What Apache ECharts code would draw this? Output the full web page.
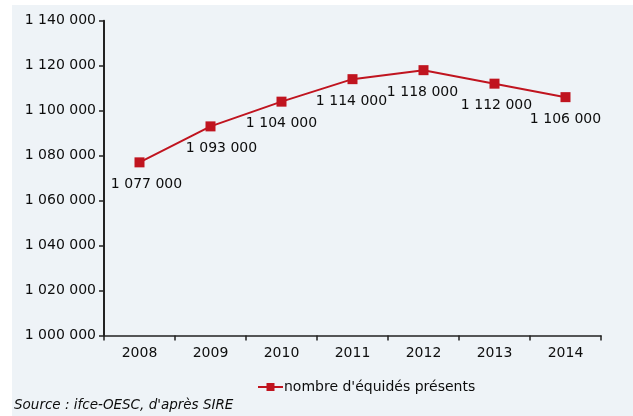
<!DOCTYPE html>
<html>
<head>
<meta charset="utf-8">
<script src="https://cdn.jsdelivr.net/npm/echarts@6/dist/echarts.min.js"></script>
<style>
html,body{margin:0;padding:0;background:#ffffff;}
#chart{width:633px;height:416px;}
</style>
</head>
<body>
<div id="chart"></div>
<script>
const years = ['2008','2009','2010','2011','2012','2013','2014'];
const equides = [1077000, 1093000, 1104000, 1114000, 1118000, 1112000, 1106000];
const yTicks = [1000000, 1020000, 1040000, 1060000, 1080000, 1100000, 1120000, 1140000];
const seriesName = "nombre d'équidés présents";
const sourceText = "Source : ifce-OESC, d'après SIRE";

// label nudges (style only)
const labelNudgeX = [7, 11, 0, -1, -1, 2, 0];

function fmt(v){
  return String(Math.round(v)).replace(/\B(?=(\d{3})+(?!\d))/g, ' ');
}

const red = '#c0141f';
const ink = '#0d0d0d';
const font = '"DejaVu Sans", Verdana, sans-serif';

const chart = echarts.init(document.getElementById('chart'), null, {renderer:'canvas'});
chart.setOption({
  animation: false,
  backgroundColor: '#ffffff',
  graphic: [
    {type:'rect', z:-10, shape:{x:12, y:5, width:621, height:411}, style:{fill:'#eef3f7'}},
    {type:'text', left:14, top:398, style:{text:sourceText, font:'italic 13.5px "DejaVu Sans", Verdana, sans-serif', fill:ink}}
  ],
  grid: {left:104, right:32, top:20.7, bottom:80.5, containLabel:false},
  xAxis: {
    type:'category',
    data: years,
    boundaryGap: true,
    axisLine: {lineStyle:{color:'#222', width:1.5}},
    axisTick: {show:true, length:5, lineStyle:{color:'#222', width:1.5}},
    axisLabel: {color:ink, fontFamily:font, fontSize:14, margin:11},
    splitLine: {show:false}
  },
  yAxis: {
    type:'value',
    min: yTicks[0],
    max: yTicks[yTicks.length-1],
    interval: 20000,
    axisLine: {show:true, lineStyle:{color:'#222', width:2}},
    axisTick: {show:true, length:5, lineStyle:{color:'#222', width:1.5}},
    axisLabel: {color:ink, fontFamily:font, fontSize:14, margin:8, formatter: fmt},
    splitLine: {show:false}
  },
  legend: {
    left: 252, top: 375,
    itemWidth: 25, itemHeight: 10, itemGap: 10,
    textStyle: {color:ink, fontFamily:font, fontSize:14, padding:[0,0,0,-4]},
    data: [seriesName]
  },
  series: [{
    name: seriesName,
    type: 'line',
    data: equides.map((v,i) => ({value:v, label:{offset:[labelNudgeX[i],0]}})),
    symbol: 'rect',
    symbolSize: 10,
    itemStyle: {color: red},
    lineStyle: {color: red, width: 2},
    label: {
      show: true,
      position: 'bottom',
      distance: 10,
      color: ink,
      fontFamily: font,
      fontSize: 14,
      formatter: p => fmt(p.value)
    }
  }]
});
</script>
</body>
</html>
